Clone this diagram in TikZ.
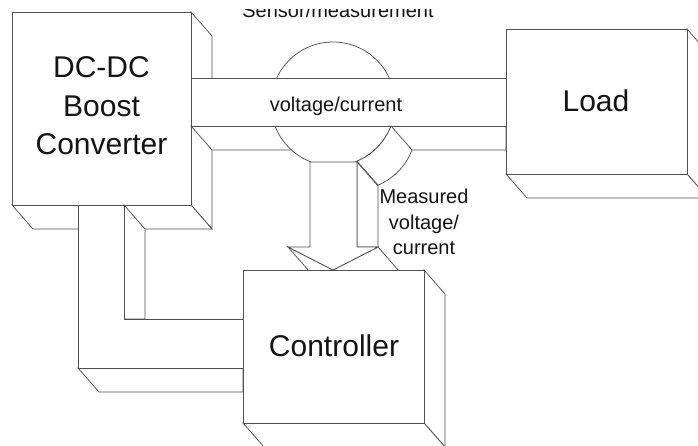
\documentclass[tikz,border=0pt]{standalone}
\usepackage{fontspec}
\setmainfont{Liberation Sans}
\usepackage{tikz}
\usetikzlibrary{calc}
\definecolor{edgegray}{RGB}{80,80,80}
\definecolor{inkblack}{RGB}{20,20,20}

\begin{document}
\begin{tikzpicture}[x=1pt,y=-1pt,line width=0.75pt,
  face/.style={draw=edgegray,fill=white},
  bigtext/.style={inkblack,font=\fontsize{30}{38.5}\selectfont,inner sep=0pt},
  smalltext/.style={inkblack,font=\fontsize{20}{25.5}\selectfont,inner sep=0pt}]
\useasboundingbox (0,0) rectangle (698,446);
\clip (0,0) rectangle (698,446);
\draw[face] (191,12) -- (212,36) -- (212,229) -- (191,205) -- cycle;
\draw[face] (12,205) -- (33,229) -- (212,229) -- (191,205) -- cycle;
\draw[face] (12,12) rectangle (191,205);
\draw[face] (687,29) -- (708,53) -- (708,198) -- (687,174) -- cycle;
\draw[face] (506,174) -- (527,198) -- (708,198) -- (687,174) -- cycle;
\draw[face] (506,29) rectangle (687,174);
\draw[face] (124,205) -- (145,229) -- (145,319) -- (124,319) -- cycle;
\draw[face] (78,368) -- (99,392) -- (243,392) -- (243,368) -- cycle;
\draw[face] (78,205) -- (78,368) -- (243,368) -- (243,319) -- (124,319) -- (124,205) -- cycle;
\draw[face] (191,126) -- (212,150) -- (506,150) -- (506,126) -- cycle;
\draw[face] (333,104) circle (62);
\draw[face] (391,126) -- (412,150) arc[start angle=20.8,end angle=67.2,radius=62]
  -- (357,161.2) arc[start angle=67.2,end angle=20.8,radius=62] -- cycle;
\draw[face] (191,78) rectangle (506,126);
\draw[face] (357,162) -- (378,186) -- (378,247) -- (357,247) -- cycle;
\draw[face] (288,247) -- (309,271) -- (354,294) -- (333,270) -- cycle;
\draw[face] (378,247) -- (399,271) -- (354,294) -- (333,270) -- cycle;
\draw[face] (310,162) -- (357,162) -- (357,247) -- (378,247) -- (333,270) -- (288,247) -- (310,247) -- cycle;
\draw[face] (424,270) -- (445,294) -- (445,447) -- (424,423) -- cycle;
\draw[face] (243,423) -- (264,447) -- (445,447) -- (424,423) -- cycle;
\draw[face] (243,270) rectangle (424,423);
\node[bigtext,align=center] (dcdc) at (101.5,105.75) {DC-DC\\Boost\\Converter};
\node[bigtext,anchor=base] (load) at (596,112) {Load};
\node[bigtext,anchor=base] (ctrl) at (334,356) {Controller};
\node[smalltext,anchor=base] (bus) at (336,112) {voltage/current};
\node[smalltext,align=center] (meas) at (424,222) {Measured\\voltage/\\current};
\begin{scope}
\clip (0,9.5) rectangle (698,40);
\node[smalltext,anchor=base] (sensor) at (338,18) {Sensor/measurement};
\end{scope}
\end{tikzpicture}
\end{document}
